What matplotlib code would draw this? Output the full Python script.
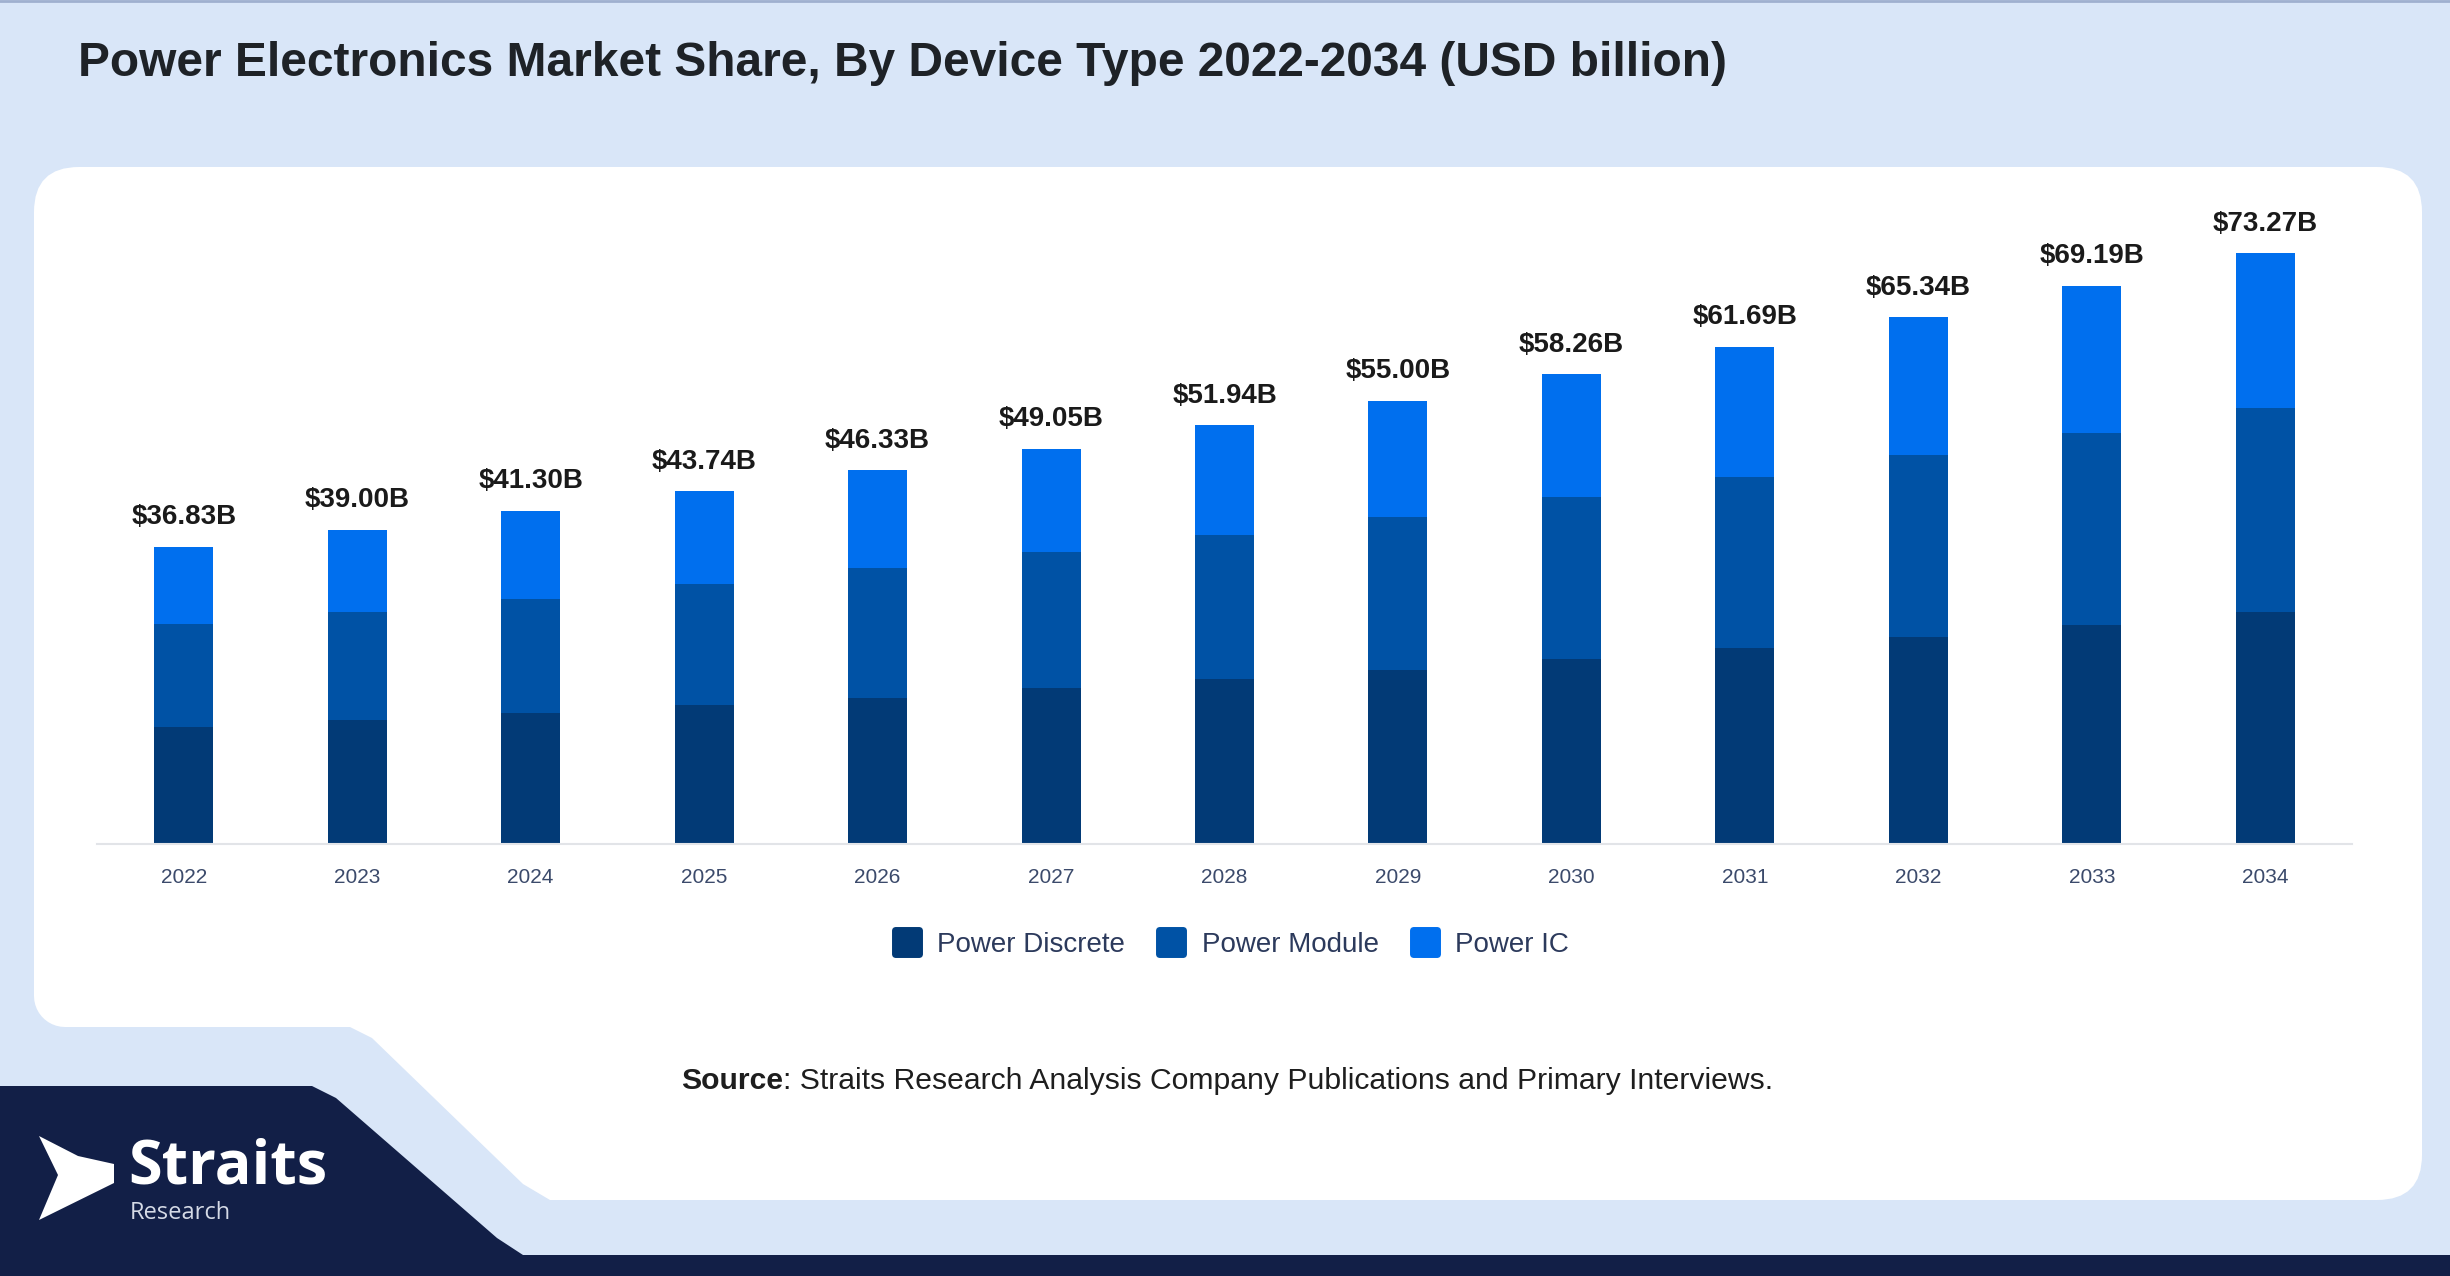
import numpy as np
import matplotlib.pyplot as plt
from matplotlib.patches import FancyBboxPatch, Polygon
from matplotlib.lines import Line2D
from matplotlib.markers import MarkerStyle

plt.rcParams['font.family'] = ['Liberation Sans', 'DejaVu Sans']

years = ['2022', '2023', '2024', '2025', '2026', '2027', '2028',
         '2029', '2030', '2031', '2032', '2033', '2034']
power_discrete = [14.53, 15.36, 16.27, 17.26, 18.17, 19.36, 20.43,
                  21.59, 22.91, 24.25, 25.66, 27.16, 28.77]
power_module = [12.72, 13.46, 14.12, 14.95, 16.02, 16.87, 17.95,
                19.02, 20.10, 21.30, 22.53, 23.82, 25.32]
power_ic = [9.58, 10.18, 10.91, 11.53, 12.14, 12.82, 13.56,
            14.39, 15.25, 16.14, 17.15, 18.21, 19.18]
totals = [36.83, 39.00, 41.30, 43.74, 46.33, 49.05, 51.94,
          55.00, 58.26, 61.69, 65.34, 69.19, 73.27]
series_names = ['Power Discrete', 'Power Module', 'Power IC']
colors = ['#023A76', '#0052A5', '#006FEE']

W, H = 2450, 1276
fig = plt.figure(figsize=(W / 100, H / 100), dpi=100)
fig.patch.set_facecolor('#D9E6F8')

# background shapes, in pixel coords
bg = fig.add_axes([0, 0, 1, 1], zorder=0)
bg.set_xlim(0, W)
bg.set_ylim(H, 0)
bg.axis('off')

bg.add_patch(FancyBboxPatch((34, 167), 2388, 1033,
                            boxstyle='round,pad=0,rounding_size=45',
                            fc='white', ec='none'))
th = np.linspace(0, np.pi / 2, 12)
arc = np.column_stack([65 - 31 * np.cos(th), 996 + 31 * np.sin(th)])
cut = np.vstack([[[0, 996]], arc,
                 [[350, 1027], [372, 1038], [523, 1184], [550, 1200],
                  [550, 1240], [0, 1240]]])
bg.add_patch(Polygon(cut, closed=True, fc='#D9E6F8', ec='none'))
navy = [[0, 1086], [312, 1086], [336, 1098], [497, 1238], [523, 1255],
        [W, 1255], [W, H], [0, H]]
bg.add_patch(Polygon(navy, closed=True, fc='#121F47', ec='none'))
bg.plot([0, W], [1, 1], color='#9FB0CF', lw=2)

# logo
chev = [[39, 1136], [78, 1156], [114, 1164], [114, 1183], [39, 1220], [58, 1175]]
bg.add_patch(Polygon(chev, closed=True, fc='white', ec='none'))
bg.text(128, 1168, 'Straits', fontsize=44, fontweight='bold', color='white',
        family='Open Sans', va='center', ha='left')
bg.text(130, 1213, 'Research', fontsize=17, color='#D5DAE6',
        family='Open Sans', va='center', ha='left')

# title
bg.text(78, 64, 'Power Electronics Market Share, By Device Type 2022-2034 (USD billion)',
        fontsize=34.5, fontweight='bold', color='#1E2227', va='center', ha='left')

# chart
ax = fig.add_axes([97 / W, 1 - 844 / H, 2255 / W, 645 / H], zorder=1)
ax.patch.set_alpha(0)
x = np.arange(len(years))
bw = 0.34
ax.bar(x, power_discrete, bw, color=colors[0], label=series_names[0])
ax.bar(x, power_module, bw, bottom=power_discrete, color=colors[1], label=series_names[1])
bottom2 = np.array(power_discrete) + np.array(power_module)
ax.bar(x, power_ic, bw, bottom=bottom2, color=colors[2], label=series_names[2])

for xi, t in zip(x, totals):
    ax.annotate(f'${t:.2f}B', (xi, t), xytext=(0, 12), textcoords='offset points',
                ha='center', va='bottom', fontsize=20, fontweight='bold', color='#1A1A1A')

ax.set_xlim(-0.5, len(years) - 0.5)
ax.set_ylim(0, 80)
ax.set_xticks(x)
ax.set_xticklabels(years, fontsize=15, color='#3B4A6B')
ax.tick_params(axis='x', length=0, pad=17)
ax.set_yticks([])
for s in ['top', 'right', 'left']:
    ax.spines[s].set_visible(False)
ax.spines['bottom'].set_color('#E2E4E8')
ax.spines['bottom'].set_linewidth(1.5)

handles = [Line2D([], [], linestyle='none',
                  marker=MarkerStyle('s', joinstyle='round'), markersize=17,
                  markerfacecolor=c, markeredgecolor=c, markeredgewidth=5)
           for c in colors]
fig.legend(handles, series_names, loc='center', bbox_to_anchor=(1224 / W, 1 - 945 / H),
           ncol=3, frameon=False, fontsize=20, handletextpad=0.1, columnspacing=0.65,
           labelcolor='#2C3A5C')

# source line
r = fig.canvas.get_renderer()
t1 = fig.text(681 / W, 1 - 1081 / H, 'Source', fontsize=21.7, fontweight='bold',
              color='#1E1E1E', va='center', ha='left')
bb = t1.get_window_extent(renderer=r)
fig.text(bb.x1 / W, 1 - 1081 / H, ': Straits Research Analysis Company Publications and Primary Interviews.',
         fontsize=21.7, color='#1E1E1E', va='center', ha='left')

fig.savefig('out.png', dpi=100)
